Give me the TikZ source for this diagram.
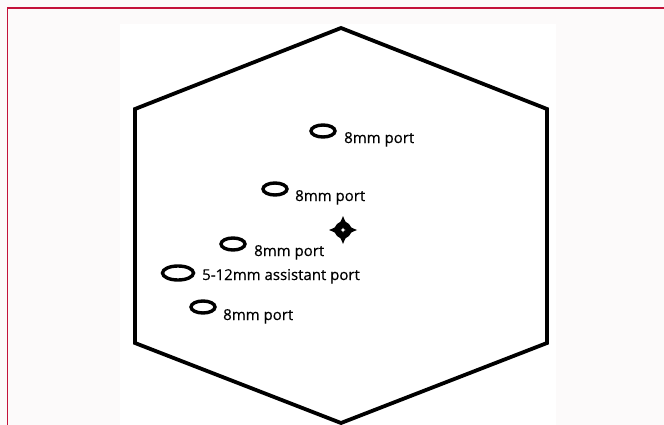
\documentclass[tikz,border=0pt]{standalone}
\usepackage{fontspec}
\setmainfont{Open Sans}
\newfontfamily\lblfont{Open Sans}[FakeBold=0.5]
\usetikzlibrary{shapes.geometric,calc}
\definecolor{bgray}{HTML}{FCFAFA}
\definecolor{frame}{HTML}{C4123A}
\tikzset{
  port/.style={draw=black, line width=3.4pt, ellipse, inner sep=0pt, minimum width=24pt, minimum height=12pt},
  bigport/.style={port, minimum width=31pt, minimum height=14pt},
  lbl/.style={anchor=base west, inner sep=0pt, font=\lblfont\fontsize{15pt}{17pt}\selectfont},
  hexline/.style={draw=black, line width=3.8pt, line join=miter},
}
\begin{document}
\begin{tikzpicture}[x=1pt,y=-1pt]
\useasboundingbox (0,0) rectangle (664,425);
\fill[bgray] (0,0) rectangle (664,425);
\fill[white] (120,24) rectangle (556,425);
\draw[frame, line width=1.4pt] (7.5,425) -- (7.5,8) -- (664,8);
% hexagon
\coordinate (h1) at (341,28);
\coordinate (h2) at (547,109);
\coordinate (h3) at (547,343);
\coordinate (h4) at (341,423);
\coordinate (h5) at (135,343);
\coordinate (h6) at (135,109);
\draw[hexline] (h1) -- (h2) -- (h3) -- (h4) -- (h5) -- (h6) -- cycle;
% ports
\node[port] (p1) at (323,131) {};
\node[port] (p2) at (275,189) {};
\node[port] (p3) at (233,244) {};
\node[bigport] (p4) at (178,273) {};
\node[port] (p5) at (203,307) {};
\node[lbl] (t1) at (344,143) {8mm port};
\node[lbl] (t2) at (295,201) {8mm port};
\node[lbl] (t3) at (254,256) {8mm port};
\node[lbl] (t4) at (202,280) {5-12mm assistant port};
\node[lbl] (t5) at (223,320) {8mm port};
% star
\coordinate (s) at (343,230);
\fill[black]
  ($(s)+(0,-14)$) .. controls ($(s)+(2.6,-7.5)$) .. ($(s)+(6,-6)$)
  .. controls ($(s)+(7.5,-2.6)$) .. ($(s)+(14,0)$)
  .. controls ($(s)+(7.5,2.6)$) .. ($(s)+(6,6)$)
  .. controls ($(s)+(2.6,7.5)$) .. ($(s)+(0,14)$)
  .. controls ($(s)+(-2.6,7.5)$) .. ($(s)+(-6,6)$)
  .. controls ($(s)+(-7.5,2.6)$) .. ($(s)+(-14,0)$)
  .. controls ($(s)+(-7.5,-2.6)$) .. ($(s)+(-6,-6)$)
  .. controls ($(s)+(-2.6,-7.5)$) .. cycle;
\fill[white]
  ($(s)+(0,-2.5)$) -- ($(s)+(0.8,-0.8)$) -- ($(s)+(2.5,0)$) -- ($(s)+(0.8,0.8)$) --
  ($(s)+(0,2.5)$) -- ($(s)+(-0.8,0.8)$) -- ($(s)+(-2.5,0)$) -- ($(s)+(-0.8,-0.8)$) -- cycle;
\end{tikzpicture}
\end{document}
